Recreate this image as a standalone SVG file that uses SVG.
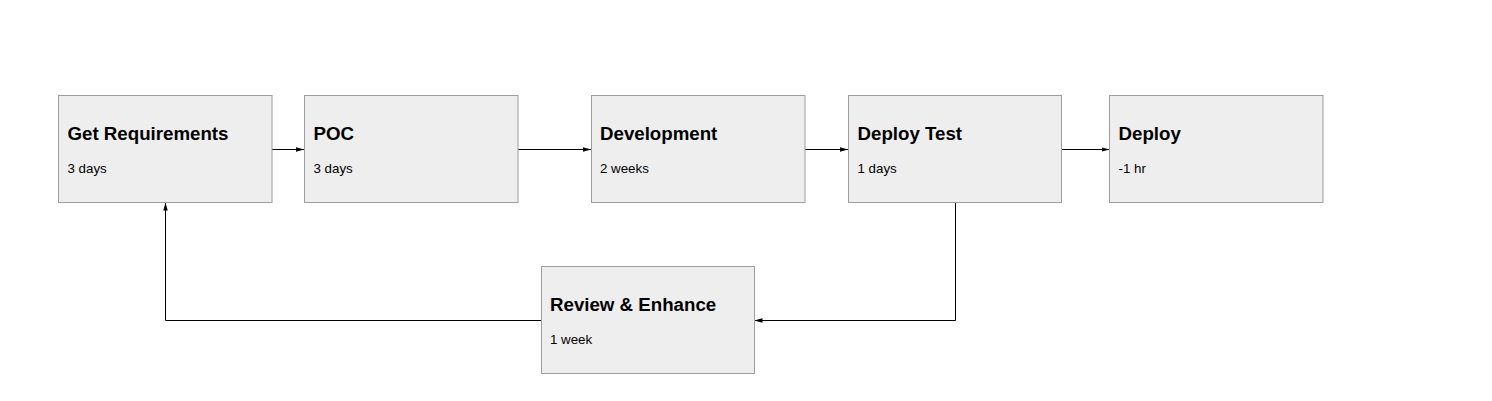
<svg xmlns="http://www.w3.org/2000/svg" width="1492" height="401" viewBox="0 0 1492 401">
<style>
.box{fill:#eeeeee;stroke:#9e9e9e;stroke-width:1}
.t{font-family:"Liberation Sans",Arial,sans-serif;font-weight:bold;font-size:18.7px;fill:#000}
.s{font-family:"Liberation Sans",Arial,sans-serif;font-size:13.3px;fill:#000}
.c{fill:none;stroke:#000;stroke-width:1;marker-end:url(#ah)}
</style>
<defs>
<marker id="ah" viewBox="0 0 8 6" refX="8" refY="3" markerWidth="8" markerHeight="6" markerUnits="userSpaceOnUse" orient="auto">
<path d="M0,0.8 L8,3 L0,5.2 Z" fill="#000"/>
</marker>
</defs>
<rect width="1492" height="401" fill="#fff"/>
<g id="connectors">
<path class="c" d="M272,149.5 H304"/>
<path class="c" d="M518,149.5 H591"/>
<path class="c" d="M805,149.5 H848"/>
<path class="c" d="M1061.5,149.5 H1109.5"/>
<path class="c" d="M955.5,202.5 V320.5 H754.5"/>
<path class="c" d="M541,320.5 H165.5 V202.5"/>
</g>
<g id="get-requirements">
<rect class="box" x="58.5" y="95.5" width="213.5" height="107"/>
<text class="t" x="67.5" y="140">Get Requirements</text>
<text class="s" x="67.5" y="173">3 days</text>
</g>
<g id="poc">
<rect class="box" x="304.5" y="95.5" width="213.5" height="107"/>
<text class="t" x="313.5" y="140">POC</text>
<text class="s" x="313.5" y="173">3 days</text>
</g>
<g id="development">
<rect class="box" x="591.5" y="95.5" width="213.5" height="107"/>
<text class="t" x="600" y="140">Development</text>
<text class="s" x="600" y="173">2 weeks</text>
</g>
<g id="deploy-test">
<rect class="box" x="848.5" y="95.5" width="213" height="107"/>
<text class="t" x="857.5" y="140">Deploy Test</text>
<text class="s" x="857.5" y="173">1 days</text>
</g>
<g id="deploy">
<rect class="box" x="1109.5" y="95.5" width="213.5" height="107"/>
<text class="t" x="1118.5" y="140">Deploy</text>
<text class="s" x="1118.5" y="173">-1 hr</text>
</g>
<g id="review-enhance">
<rect class="box" x="541.5" y="266.5" width="213" height="107"/>
<text class="t" x="550" y="311">Review &amp; Enhance</text>
<text class="s" x="550" y="344">1 week</text>
</g>
</svg>
